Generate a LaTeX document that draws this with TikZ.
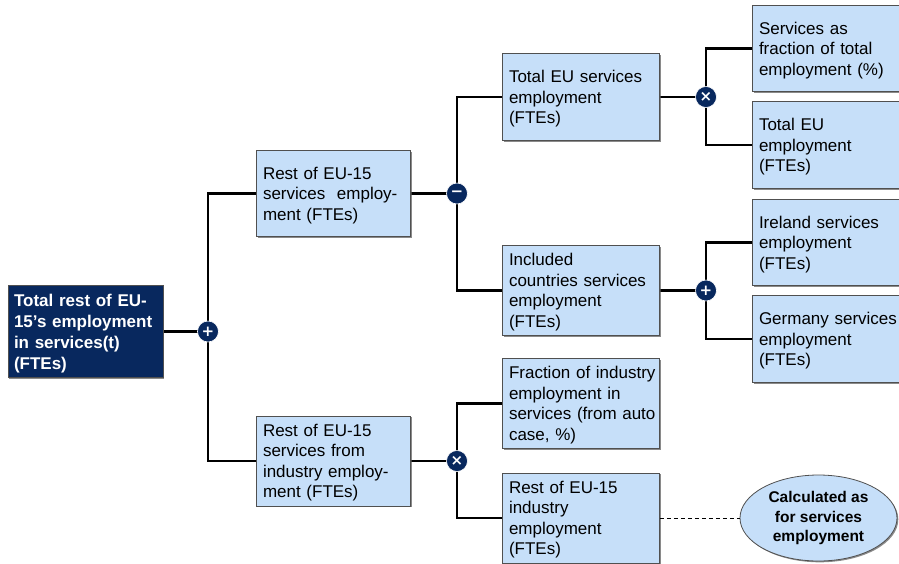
\documentclass[tikz,border=0pt]{standalone}
\usepackage{fontspec}
\setmainfont{Liberation Sans}
\newfontfamily\symfont{DejaVu Sans}
\usetikzlibrary{shapes.geometric,shadows,backgrounds}
\definecolor{navy}{RGB}{8,40,94}
\definecolor{boxblue}{RGB}{198,223,249}
\definecolor{edgegray}{RGB}{80,80,80}
\hfuzz=20pt
\tikzset{
  shade box/.style={drop shadow={shadow xshift=1.3pt,shadow yshift=-1.3pt,opacity=0.7,fill=gray!70!black}},
  even lines/.style={execute at begin node={\rule{0pt}{17pt}},
    execute at end node={\rule[-5pt]{0pt}{5pt}}},
  leaf/.style={shade box,even lines,draw=edgegray,line width=0.8pt,fill=boxblue,
    minimum width=#1,minimum height=86.5pt,text width=#1-12pt,
    inner xsep=6.5pt,align=left,font=\fontsize{17}{20.5}\selectfont},
  leaf/.default=156pt,
  rootbox/.style={shade box,even lines,draw=edgegray,line width=0.8pt,fill=navy,text=white,
    minimum width=155pt,minimum height=87pt,text width=143pt,inner xsep=5.5pt,
    align=left,font=\fontsize{17}{21}\selectfont\bfseries},
  oper/.style={circle,fill=navy,draw=white,line width=0.6pt,minimum size=21pt,
    inner sep=0pt,text=white,font=\symfont\fontsize{15}{15}\selectfont\bfseries},
  link/.style={line width=2.8pt,black},
  note/.style={ellipse,shade box,draw=edgegray,line width=0.8pt,fill=boxblue,
    minimum width=157pt,minimum height=86pt,inner sep=0pt,align=center,
    font=\fontsize{15.5}{19.5}\selectfont\bfseries},
}
\begin{document}
\begin{tikzpicture}[x=1pt,y=-1pt]
\useasboundingbox (0,0) rectangle (899,563);
\clip (0,0) rectangle (899,563);

% root and first split
\node[rootbox] (root) at (85.5,331.5) {Total rest of EU-\\15's employment\\in services(t)\\(FTEs)};
\node[oper] (op0) at (208,331.5) {+};

\node[leaf=153pt] (a1) at (333.5,193.5) {Rest of EU-15\\services\hspace{0.35em} employ-\\ment (FTEs)};
\node[leaf=153pt] (a2) at (333.5,461) {Rest of EU-15\\services from\\industry employ-\\ment (FTEs)};
\node[oper] (opa1) at (457,193.5) {−};
\node[oper] (opa2) at (457,461) {×};

% second level
\node[leaf] (b1) at (581,97) {Total EU services\\employment\\(FTEs)};
\node[leaf] (b2) at (581,290.5) {Included\\countries services\\employment\\(FTEs)};
\node[leaf] (b3) at (581,403.5) {\mbox{Fraction of industry}\\employment in\\\mbox{services (from auto}\\case, \%)};
\node[leaf] (b4) at (581,518) {Rest of EU-15\\industry\\employment\\(FTEs)};
\node[oper] (opb1) at (706,97) {×};
\node[oper] (opb2) at (706,290.5) {+};

% third level
\node[leaf] (c1) at (831,48.5) {Services as\\fraction of total\\employment (\%)};
\node[leaf] (c2) at (831,145) {Total EU\\employment\\(FTEs)};
\node[leaf] (c3) at (831,242.5) {Ireland services\\employment\\(FTEs)};
\node[leaf] (c4) at (831,339) {\mbox{Germany services}\\employment\\(FTEs)};

\node[note] (calc) at (818.5,518) {Calculated as\\for services\\employment};

% connectors
\begin{scope}[on background layer]
  \draw[link] (root.east) -- (op0.center);
  \draw[link] (op0.center) |- (a1.west);
  \draw[link] (op0.center) |- (a2.west);
  \draw[link] (a1.east) -- (opa1.center);
  \draw[link] (opa1.center) |- (b1.west);
  \draw[link] (opa1.center) |- (b2.west);
  \draw[link] (a2.east) -- (opa2.center);
  \draw[link] (opa2.center) |- (b3.west);
  \draw[link] (opa2.center) |- (b4.west);
  \draw[link] (b1.east) -- (opb1.center);
  \draw[link] (opb1.center) |- (c1.west);
  \draw[link] (opb1.center) |- (c2.west);
  \draw[link] (b2.east) -- (opb2.center);
  \draw[link] (opb2.center) |- (c3.west);
  \draw[link] (opb2.center) |- (c4.west);
\end{scope}
\draw[line width=0.9pt,dash pattern=on 4pt off 3pt] (b4.east) -- (calc.west);
\end{tikzpicture}
\end{document}
